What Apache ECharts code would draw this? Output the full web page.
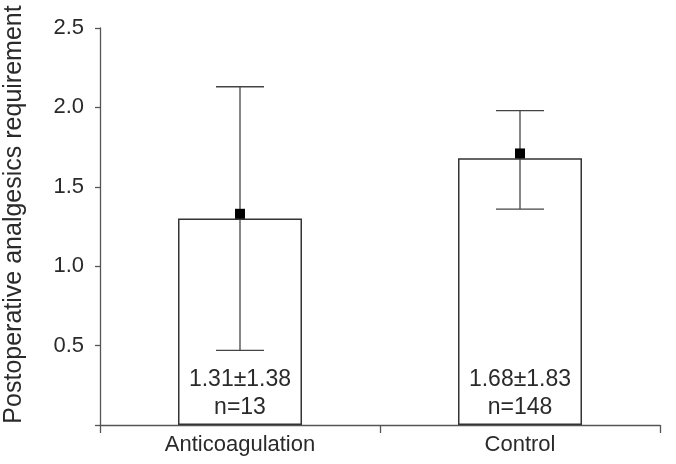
<!DOCTYPE html>
<html>
<head>
<meta charset="utf-8">
<script src="https://cdn.jsdelivr.net/npm/echarts@6/dist/echarts.min.js"></script>
<style>
  html, body { margin: 0; padding: 0; background: #fff; }
  #chart { width: 676px; height: 464px; }
</style>
</head>
<body>
<div id="chart"></div>
<script>
// data
var categories = ['Anticoagulation', 'Control'];
var barValues = [1.30, 1.68];
var meanValues = [1.33, 1.71];
var errLow = [0.47, 1.36];
var errHigh = [2.13, 1.98];
var barTexts = ['1.31±1.38\nn=13', '1.68±1.83\nn=148'];
var yTicks = [0.5, 1.0, 1.5, 2.0, 2.5];

var axisColor = '#555';
var textColor = '#2a2a2a';
var font = 'Liberation Sans, Arial, sans-serif';

var chart = echarts.init(document.getElementById('chart'));

var errData = [];
for (var i = 0; i < categories.length; i++) {
  errData.push([i, errLow[i], errHigh[i]]);
}

var option = {
  animation: false,
  grid: { left: 100, right: 16, top: 28, bottom: 39, outerBoundsMode: 'none', containLabel: false },
  xAxis: {
    type: 'category',
    data: categories,
    axisLine: { lineStyle: { color: axisColor, width: 1.3 } },
    axisTick: { show: true, length: 8, lineStyle: { color: axisColor, width: 1.3 } },
    axisLabel: { color: textColor, fontSize: 22, fontFamily: font, margin: 9 }
  },
  yAxis: {
    type: 'value',
    min: 0,
    max: 2.5,
    interval: 0.5,
    name: 'Postoperative analgesics requirement',
    nameLocation: 'middle',
    nameGap: 73,
    nameTextStyle: { color: textColor, fontSize: 25, fontFamily: font, padding: [0, 0, 0, 24] },
    axisLine: { show: true, lineStyle: { color: axisColor, width: 1.3 } },
    axisTick: { show: true, length: 5, lineStyle: { color: axisColor, width: 1.3 } },
    splitLine: { show: false },
    axisLabel: {
      color: textColor, fontSize: 22, fontFamily: font, margin: 16,
      formatter: function (v) {
        return yTicks.indexOf(v) >= 0 ? v.toFixed(1) : '';
      }
    }
  },
  series: [
    {
      type: 'bar',
      data: barValues,
      barWidth: 124,
      itemStyle: { color: '#fff', borderColor: '#333', borderWidth: 1.5 },
      label: {
        show: true,
        position: 'insideBottom',
        distance: 3,
        color: textColor,
        fontSize: 23,
        fontFamily: font,
        lineHeight: 28,
        formatter: function (p) { return barTexts[p.dataIndex]; }
      },
      z: 1
    },
    {
      type: 'custom',
      data: errData,
      renderItem: function (params, api) {
        var x = api.value(0);
        var lo = api.coord([x, api.value(1)]);
        var hi = api.coord([x, api.value(2)]);
        var half = 24;
        var style = { stroke: '#444', lineWidth: 1.3 };
        return {
          type: 'group',
          children: [
            { type: 'line', shape: { x1: hi[0], y1: hi[1], x2: lo[0], y2: lo[1] }, style: style },
            { type: 'line', shape: { x1: hi[0] - half, y1: hi[1], x2: hi[0] + half, y2: hi[1] }, style: style },
            { type: 'line', shape: { x1: lo[0] - half, y1: lo[1], x2: lo[0] + half, y2: lo[1] }, style: style }
          ]
        };
      },
      z: 3
    },
    {
      type: 'scatter',
      data: meanValues,
      symbol: 'rect',
      symbolSize: 10,
      itemStyle: { color: '#000', opacity: 1 },
      z: 4
    }
  ]
};

chart.setOption(option);
</script>
</body>
</html>
